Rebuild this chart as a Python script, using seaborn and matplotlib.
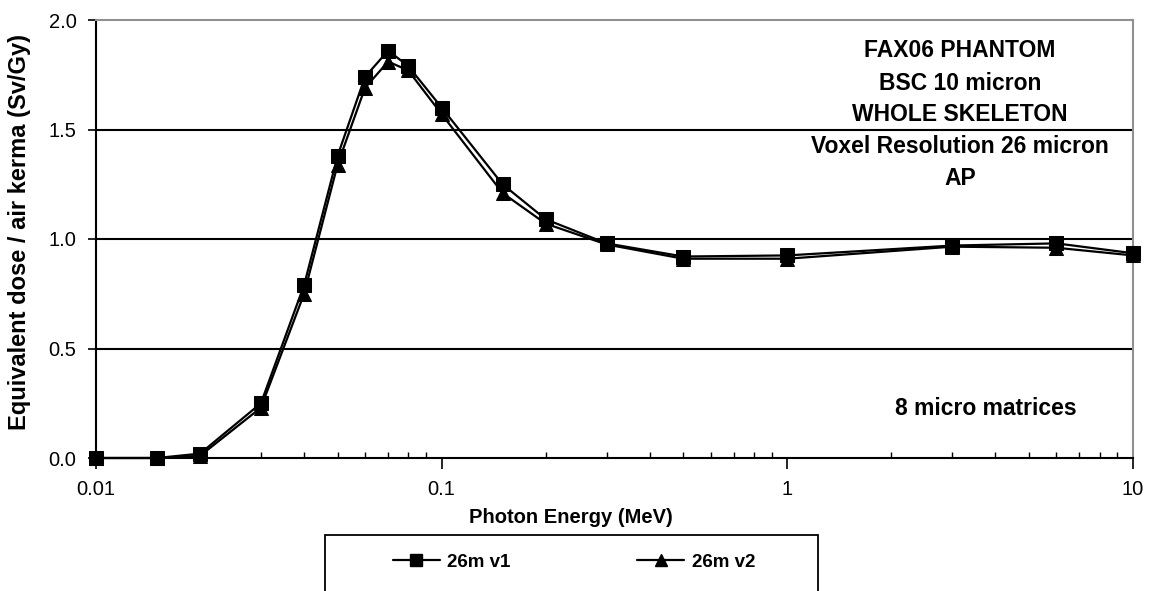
import numpy as np
import pandas as pd
import matplotlib
matplotlib.use("Agg")
import matplotlib.pyplot as plt
import seaborn as sns
from matplotlib.ticker import FixedLocator, LogLocator, NullFormatter, FuncFormatter
from matplotlib.lines import Line2D
from matplotlib.patches import Rectangle

energy = [0.01, 0.015, 0.02, 0.03, 0.04, 0.05, 0.06, 0.07, 0.08, 0.1,
          0.15, 0.2, 0.3, 0.5, 1, 3, 6, 10]
v1 = [0.00, 0.00, 0.02, 0.25, 0.79, 1.38, 1.74, 1.86, 1.79, 1.60,
      1.25, 1.09, 0.98, 0.92, 0.925, 0.97, 0.98, 0.935]
v2 = [0.00, 0.00, 0.01, 0.23, 0.75, 1.34, 1.69, 1.81, 1.77, 1.57,
      1.21, 1.07, 0.975, 0.91, 0.91, 0.965, 0.96, 0.925]
series_names = ["26m v1", "26m v2"]
annot_lines = ["FAX06 PHANTOM", "BSC 10 micron", "WHOLE SKELETON",
               "Voxel Resolution 26 micron", "AP"]
annot_bottom = "8 micro matrices"
xticks = [0.01, 0.1, 1, 10]
xtick_labels = ["0.01", "0.1", "1", "10"]
yticks = [0.0, 0.5, 1.0, 1.5, 2.0]

df = pd.DataFrame({
    "energy": energy * 2,
    "value": v1 + v2,
    "series": [series_names[0]] * len(v1) + [series_names[1]] * len(v2),
})

sns.set_style("white")
plt.rcParams["font.family"] = ["Liberation Sans", "DejaVu Sans"]
for k in ["text.color", "axes.labelcolor", "xtick.color", "ytick.color"]:
    plt.rcParams[k] = "black"

W, H = 1151, 591
fig = plt.figure(figsize=(W / 100, H / 100), dpi=100)
ax = fig.add_axes([96 / W, 1 - 458 / H, (1133 - 96) / W, (458 - 20) / H])

sns.lineplot(data=df, x="energy", y="value", hue="series", style="series",
             markers={"26m v1": "s", "26m v2": "^"}, dashes=False,
             palette={"26m v1": "black", "26m v2": "black"},
             markersize=10, markeredgecolor="black", linewidth=1.6,
             clip_on=False, ax=ax, legend=False, zorder=5)

ax.set_xscale("log")
ax.set_xlim(0.01, 10)
ax.set_ylim(0, 2.0)

for y in [0.5, 1.0, 1.5]:
    ax.axhline(y, color="black", lw=1.5, zorder=1)

ax.xaxis.set_major_locator(FixedLocator(xticks))
ax.set_xticklabels(xtick_labels)
ax.xaxis.set_minor_locator(LogLocator(base=10, subs=np.arange(2, 10)))
ax.xaxis.set_minor_formatter(NullFormatter())
ax.set_yticks(yticks)
ax.yaxis.set_major_formatter(FuncFormatter(lambda v, p: f"{v:.1f}"))

ax.tick_params(axis="x", which="major", direction="out", length=8, width=1.2,
               labelsize=14.5, pad=8, bottom=True)
ax.tick_params(axis="x", which="minor", direction="in", length=4, width=1.0, bottom=True)
ax.tick_params(axis="y", which="major", direction="out", length=6, width=1.2,
               labelsize=14.5, left=True, pad=8)

for s in ["left", "bottom"]:
    ax.spines[s].set_color("black")
    ax.spines[s].set_linewidth(1.5)
for s in ["top", "right"]:
    ax.spines[s].set_color("#909090")
    ax.spines[s].set_linewidth(1.5)
    ax.spines[s].set_visible(True)

ax.set_xlabel("")
ax.set_ylabel("")
fig.text(571 / W, 1 - 523 / H, "Photon Energy (MeV)", ha="center", va="baseline",
         fontsize=14.5, fontweight="bold")
fig.text(20 / W, 1 - 430 / H, "Equivalent dose / air kerma (Sv/Gy)", rotation=90,
         ha="center", va="bottom", fontsize=17, fontweight="bold")

baselines = [57, 90, 121, 153, 185]
for t, y in zip(annot_lines, baselines):
    fig.text(960 / W, 1 - y / H, t, ha="center", va="baseline",
             fontsize=16.5, fontweight="bold")
fig.text(986 / W, 1 - 415 / H, annot_bottom, ha="center", va="baseline",
         fontsize=16.5, fontweight="bold")

# legend frame (extends below the figure edge as in the reference)
fig.patches.append(Rectangle((325 / W, -0.05), (818 - 325) / W, 0.05 + (591 - 535) / H,
                             transform=fig.transFigure, facecolor="white",
                             edgecolor="black", lw=1.3))
handles = [Line2D([], [], color="black", lw=1.6, marker="s", markersize=8),
           Line2D([], [], color="black", lw=1.6, marker="^", markersize=8)]
leg = fig.legend(handles, series_names, loc="center left",
                 bbox_to_anchor=(393 / W, 1 - 562 / H, (755 - 393) / W, 0.0),
                 mode="expand", ncol=2, frameon=False,
                 borderpad=0, borderaxespad=0, handlelength=2.5,
                 handletextpad=0.4, prop={"weight": "bold", "size": 13.5})

fig.savefig("out.png", dpi=100)
